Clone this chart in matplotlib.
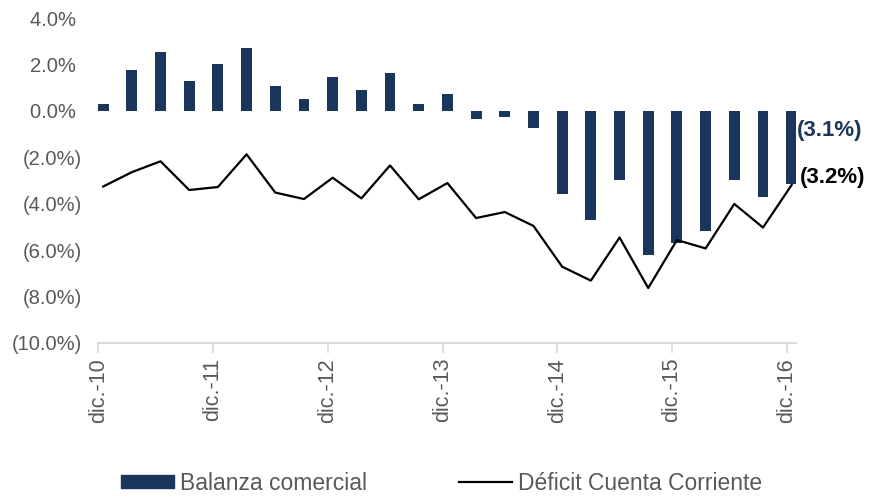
import matplotlib
matplotlib.use("Agg")
import matplotlib.pyplot as plt
import numpy as np
from matplotlib.patches import Patch
from matplotlib.lines import Line2D

plt.rcParams['font.family'] = ['Liberation Sans', 'DejaVu Sans']

# Quarterly data, dic-10 .. dic-16 (% of GDP)
balanza = [0.30, 1.78, 2.54, 1.28, 2.01, 2.71, 1.06, 0.51, 1.45, 0.90, 1.64, 0.32, 0.75,
           -0.35, -0.28, -0.74, -3.58, -4.70, -2.96, -6.20, -5.68, -5.16, -2.97, -3.72, -3.13]
deficit = [-3.26, -2.64, -2.17, -3.41, -3.28, -1.87, -3.52, -3.80, -2.88, -3.77, -2.35, -3.81, -3.11,
           -4.62, -4.36, -4.96, -6.72, -7.32, -5.46, -7.64, -5.57, -5.93, -4.01, -5.03, -3.19]
tick_labels = ['dic.-10', 'dic.-11', 'dic.-12', 'dic.-13', 'dic.-14', 'dic.-15', 'dic.-16']
y_ticks = [4, 2, 0, -2, -4, -6, -8, -10]

navy = '#1a365d'
grey = '#595959'

fig = plt.figure(figsize=(8.75, 4.99), dpi=100)
ax = fig.add_axes([0.1123, 0.3132, 0.7974, 0.6501])

x = np.arange(len(balanza))
ax.bar(x, balanza, width=0.38, color=navy, zorder=2)
ax.plot(x, deficit, color='black', lw=1.6, zorder=3)

ax.set_ylim(-10, 4)
ax.set_xlim(-0.17, 24.15)

def fmt(v, pad=''):
    return f"{v:.1f}%{pad}" if v >= 0 else f"({abs(v):.1f}%)"

ax.set_yticks(y_ticks)
ax.set_yticklabels([fmt(v, ' ') for v in y_ticks])
ax.tick_params(axis='y', length=0, labelsize=14.5, labelcolor=grey, pad=12)

tick_pos = [4 * k - 0.17 for k in range(len(tick_labels))]
ax.set_xticks(tick_pos)
ax.set_xticklabels(tick_labels, rotation=90)
ax.tick_params(axis='x', length=7, width=1.2, color='#d9d9d9', labelsize=15.5,
               labelcolor=grey, pad=4)

for s in ['top', 'right', 'left']:
    ax.spines[s].set_visible(False)
ax.spines['bottom'].set_color('#d9d9d9')
ax.spines['bottom'].set_linewidth(1.4)

# end labels
ax.text(x[-1] + 0.19, -0.83, fmt(balanza[-1]), fontsize=16, fontweight='bold',
        color=navy, va='center', ha='left', clip_on=False)
ax.text(x[-1] + 0.3, -2.88, fmt(deficit[-1]), fontsize=16, fontweight='bold',
        color='black', va='center', ha='left', clip_on=False)

handles = [Patch(facecolor=navy, edgecolor=navy),
           Line2D([0], [0], color='black', lw=1.6)]
leg = fig.legend(handles, ['Balanza comercial', 'Déficit Cuenta Corriente'],
                 loc='center', bbox_to_anchor=(0.5046, 0.032), ncol=2, frameon=False,
                 fontsize=16.5, handlelength=2.3, handleheight=0.5, handletextpad=0.26,
                 columnspacing=4.05)
for t in leg.get_texts():
    t.set_color(grey)

fig.savefig('out.png', dpi=100)
